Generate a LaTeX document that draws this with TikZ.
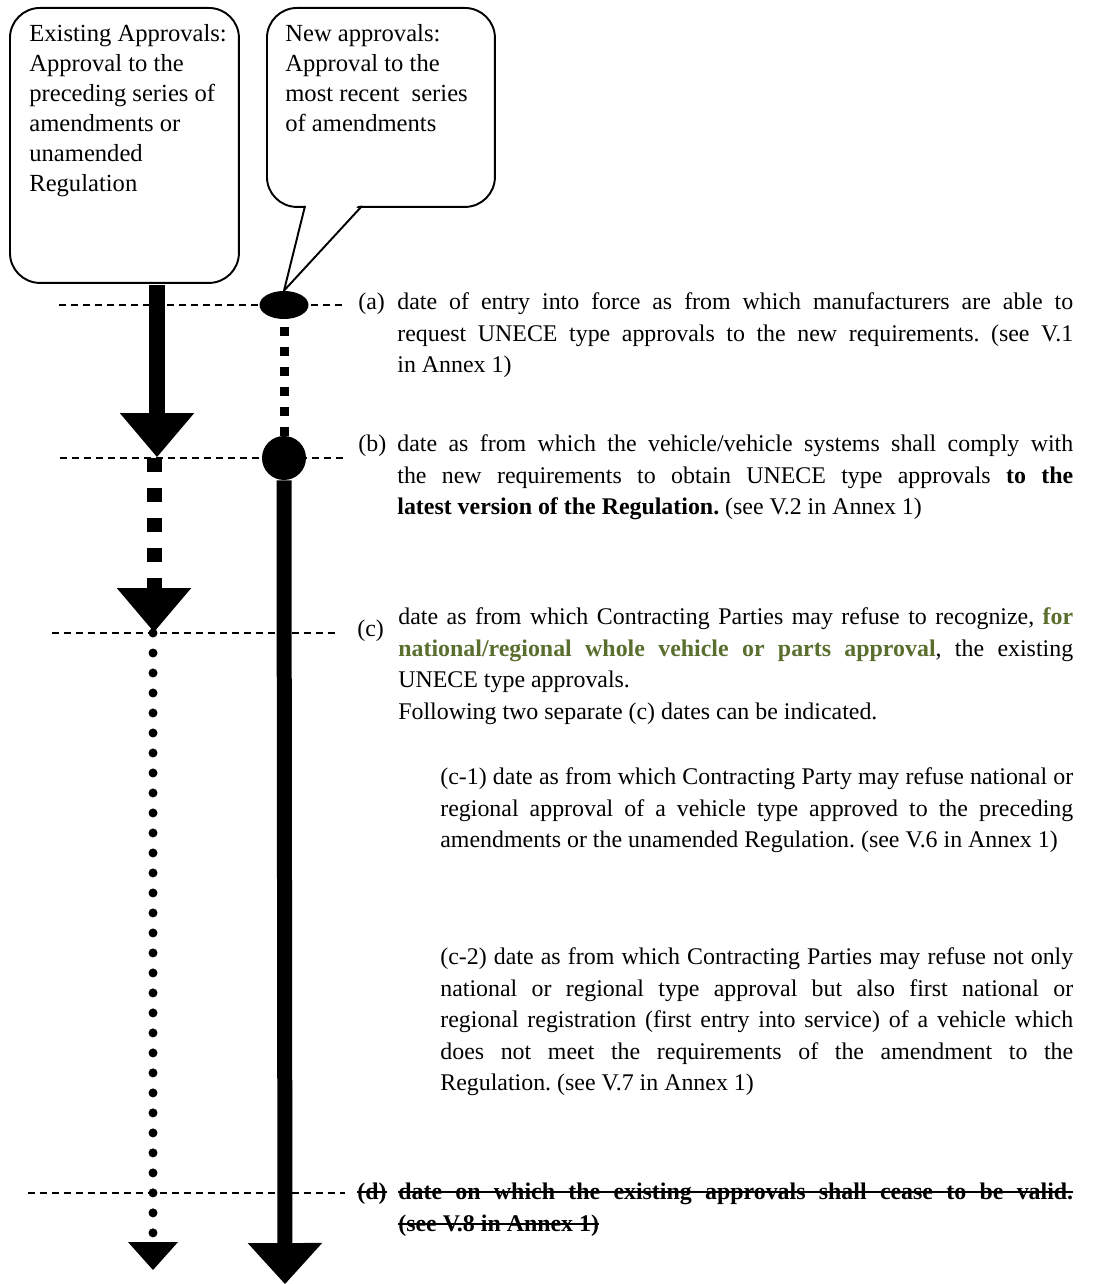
\documentclass[tikz,border=0pt]{standalone}
\usepackage{fontspec}
\setmainfont{Liberation Serif}
\usetikzlibrary{arrows.meta,shapes.geometric}
\setlength{\parindent}{0pt}
\frenchspacing
\definecolor{olivegreen}{RGB}{90,110,46}
\newcommand{\bodysize}{\fontsize{13.6}{18}\selectfont}
\newcommand{\boxsize}{\fontsize{14}{17.07}\selectfont}
\newsavebox{\strikebox}
\newcommand{\strikeout}[1]{\sbox{\strikebox}{#1}\usebox{\strikebox}\llap{\rule[0.26em]{\wd\strikebox}{1.1pt}}}

\tikzset{
  level/.style={line width=0.9pt, dash pattern=on 0.14cm off 0.1cm},
  callbox/.style={draw, line width=1.1pt, rounded corners=0.6cm, inner sep=0pt, anchor=north west},
  callline/.style={line width=1.1pt, line join=miter},
  calltext/.style={font=\boxsize, align=left, inner sep=0pt, anchor=north west},
  block/.style={font=\bodysize, align=justify, inner sep=0pt, anchor=north west},
  lbl/.style={font=\bodysize, inner sep=0pt, anchor=base west},
  bigtip/.style={-{Triangle[length=#1, width=1.49cm, line width=0pt]}},
  smalltip/.style={-{Triangle[length=0.56cm, width=1.0cm, line width=0pt]}},
}

\begin{document}
\begin{tikzpicture}[x=0.02cm, y=-0.02cm]
			\useasboundingbox (0,0) rectangle (1092,1284);
			
			%%%%% DATE LEVELS %%%%%
			
			\coordinate (la0) at (59,305);   \coordinate (la1) at (345,305);
			\coordinate (lb0) at (60,458);   \coordinate (lb1) at (343,458);
			\coordinate (lc0) at (52,633);   \coordinate (lc1) at (335,633);
			\coordinate (ld0) at (28,1193);  \coordinate (ld1) at (345,1193);
			\draw[level] (la0) -- (la1);
			\draw[level] (lb0) -- (lb1);
			\draw[level] (lc0) -- (lc1);
			\draw[level] (ld0) -- (ld1);
			
			%%%%% CALLOUTS %%%%%
			
			\node[callbox, minimum width=4.58cm, minimum height=5.5cm] (oldbox) at (9,7) {};
			\node[callbox, minimum width=4.56cm, minimum height=3.98cm] (newbox) at (266,7) {};
			\node[calltext] (oldtxt) at (29,20) {\strut Existing Approvals:\\Approval to the\\preceding series of\\amendments or\\unamended\\Regulation};
			\node[calltext] (newtxt) at (285,20) {\strut New approvals:\\Approval to the\\most recent~ series\\of amendments};
			
			%%%%% NEW APPROVALS LINE %%%%%
			
			\node[ellipse, fill, minimum width=0.98cm, minimum height=0.56cm, inner sep=0pt] (newA) at (284,305) {};
			\node[circle, fill, minimum size=0.88cm, inner sep=0pt] (newB) at (284,458) {};
			\coordinate (newend) at (285,1284);
			
			\fill[white] (306.5,203) -- (newA.north) -- (360.5,203) -- cycle;
			\draw[callline] (305,206) -- (newA.north) -- (362,206);
			
			\draw[line width=0.18cm, dash pattern=on 0.18cm off 0.22cm, dash phase=0.24cm] (newA.south) -- (newB.north);
			\draw[line width=0.3cm, bigtip=0.82cm] (newB.south) -- (newend);
			
			%%%%% EXISTING APPROVALS LINE %%%%%
			
			\coordinate (old0) at (157,285);
			\coordinate (old1) at (157,457);
			\coordinate (old2) at (154,458);
			\coordinate (old3) at (154,632);
			\coordinate (old4) at (153,633);
			\coordinate (old5) at (153,1270);
			
			\draw[line width=0.32cm, bigtip=0.88cm] (old0) -- (old1);
			\draw[line width=0.3cm, dash pattern=on 0.28cm off 0.32cm, bigtip=0.88cm] (old2) -- (old3);
			\draw[line width=0.18cm, line cap=round, dash pattern=on 0pt off 0.4cm, smalltip] (old4) -- (old5);
			
			%%%%% TEXTS %%%%%
			
			\node[lbl] (labA) at (358,309) {(a)};
			\node[block, text width=13.52cm] (txtA) at (397,287) {\strut date of entry into force as from which manufacturers are able to\linebreak request UNECE type approvals to the new requirements. (see V.1\linebreak in Annex 1)};
			
			\node[lbl] (labB) at (358,451) {(b)};
			\node[block, text width=13.52cm] (txtB) at (397,429) {\strut date as from which the vehicle/vehicle systems shall comply with\linebreak the new requirements to obtain UNECE type approvals \textbf{to the}\linebreak \textbf{latest version of the Regulation.} (see V.2 in Annex 1)};
			
			\node[lbl] (labC) at (357,636) {(c)};
			\node[block, text width=13.5cm] (txtC) at (398,602) {\strut date as from which Contracting Parties may refuse to recognize, \textcolor{olivegreen}{\textbf{for}}\linebreak \textcolor{olivegreen}{\textbf{national/regional whole vehicle or parts approval}}, the existing\linebreak UNECE type approvals.\\Following two separate (c) dates can be indicated.};
			
			\node[block, text width=12.66cm] (txtC1) at (440,762) {\strut (c-1) date as from which Contracting Party may refuse national or\linebreak regional approval of a vehicle type approved to the preceding\linebreak amendments or the unamended Regulation. (see V.6 in Annex 1)};
			
			\node[block, text width=12.66cm] (txtC2) at (440,942) {\strut (c-2) date as from which Contracting Parties may refuse not only\linebreak national or regional type approval but also first national or\linebreak regional registration (first entry into service) of a vehicle which\linebreak does not meet the requirements of the amendment to the\linebreak Regulation. (see V.7 in Annex 1)};
			
			\node[lbl, font=\bodysize\bfseries] (labD) at (357,1199) {\strikeout{(d)}};
			\node[block, align=left, font=\bodysize\bfseries] (txtD) at (398,1177) {\strut\strikeout{\makebox[13.5cm][s]{date on which the existing approvals shall cease to be valid.}}\\\strikeout{(see V.8 in Annex 1)}};
			
			%%%%% END %%%%%
\end{tikzpicture}
\end{document}
